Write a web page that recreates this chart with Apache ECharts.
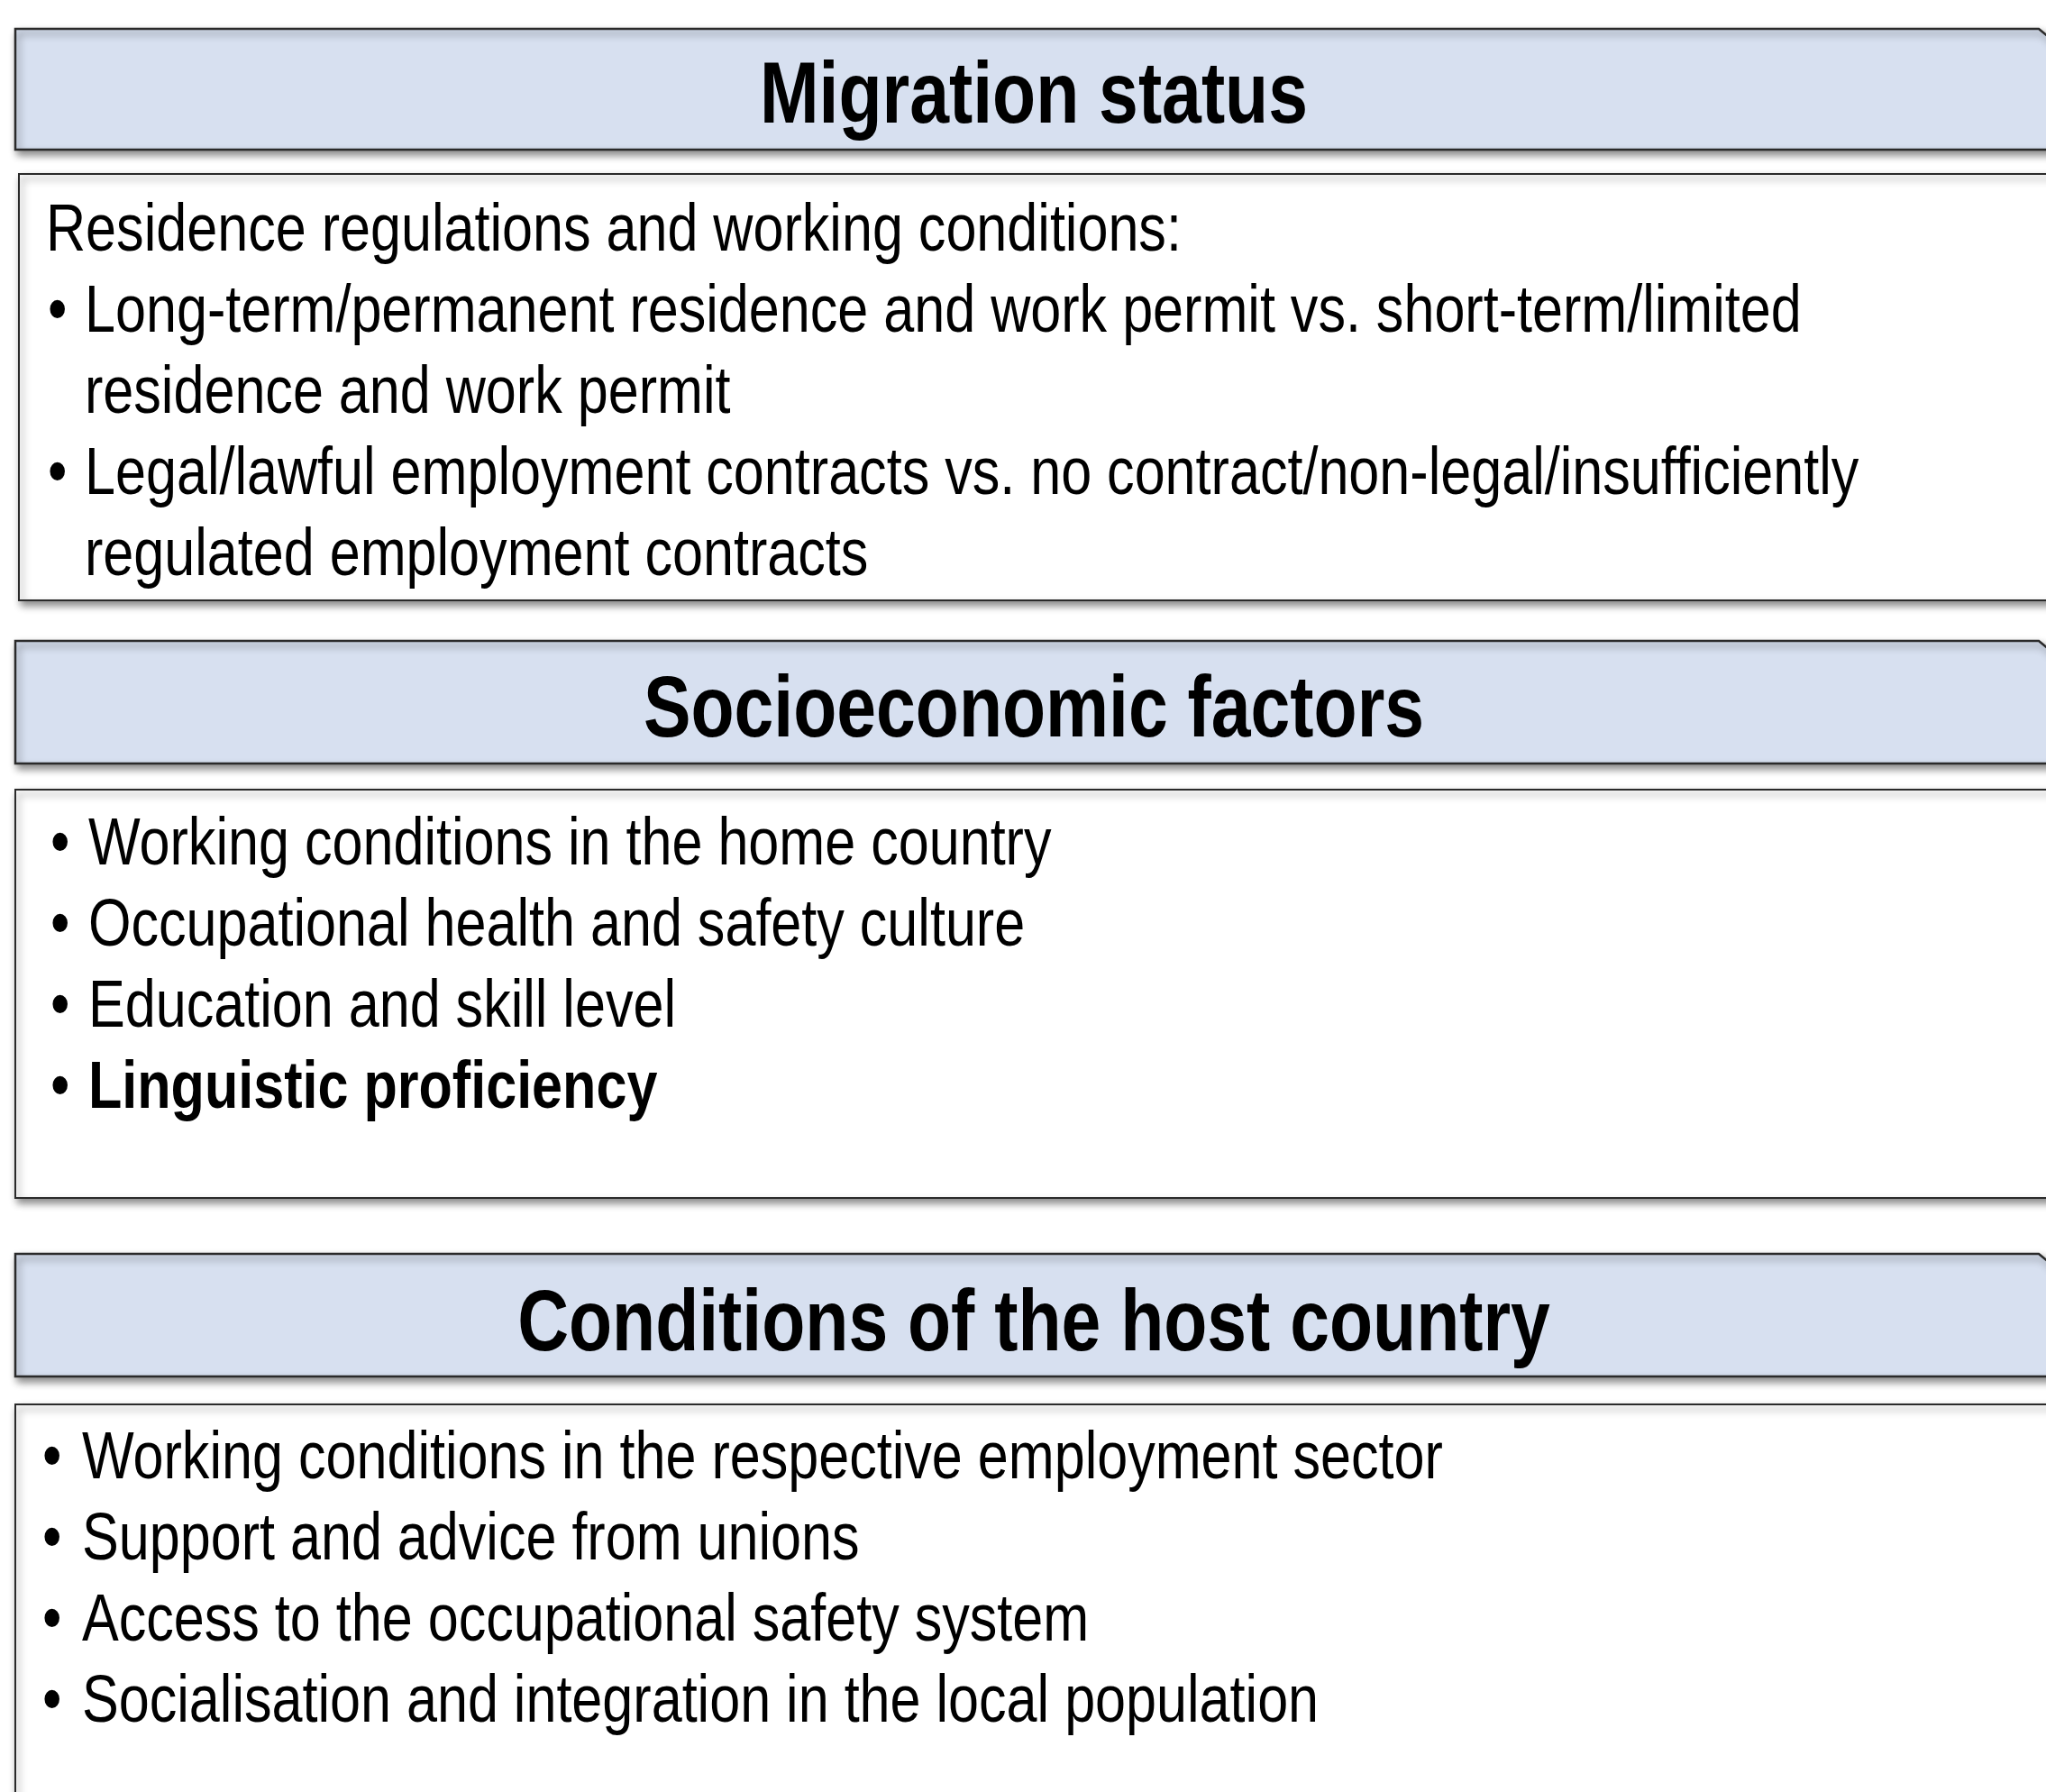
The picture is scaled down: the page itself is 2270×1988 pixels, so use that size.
<!DOCTYPE html>
<html>
<head>
<meta charset="utf-8">
<script src="https://cdn.jsdelivr.net/npm/echarts@6/dist/echarts.min.js"></script>
<style>
    html, body { margin: 0; padding: 0; background: #fff; }
    #main { width: 2270px; height: 1988px; }
</style>
</head>
<body>
<div id="main"></div>
<script>
// section titles
const sectionTitles = ['Migration status', 'Socioeconomic factors', 'Conditions of the host country'];

// box 1
const migrationIntro = 'Residence regulations and working conditions:';
const migrationBullets = [
    ['Long-term/permanent residence and work permit vs. short-term/limited', 'residence and work permit'],
    ['Legal/lawful employment contracts vs. no contract/non-legal/insufficiently', 'regulated employment contracts']
];

// box 2
const socioBullets = [
    'Working conditions in the home country',
    'Occupational health and safety culture',
    'Education and skill level',
    'Linguistic proficiency'
];
const socioBold = [false, false, false, true];

// box 3
const hostBullets = [
    'Working conditions in the respective employment sector',
    'Support and advice from unions',
    'Access to the occupational safety system',
    'Socialisation and integration in the local population'
];

// 字体检测：没有 Narrow 就用普通字体横向压缩
const hasFont = (name) => {
    const ctx = document.createElement('canvas').getContext('2d');
    ctx.font = '72px monospace';
    const w0 = ctx.measureText('Migration status').width;
    ctx.font = "72px '" + name + "', monospace";
    return ctx.measureText('Migration status').width !== w0;
};
const narrow = hasFont('Liberation Sans Narrow');
const FONT = narrow ? "'Liberation Sans Narrow', 'Arial Narrow', sans-serif" : "'Liberation Sans', Arial, sans-serif";
const SX = narrow ? 1 : 0.82;

const W = 2270;
const BODY_SIZE = 74.5;
const TITLE_SIZE = 96;
const LINE_H = 90;
const STROKE = '#2a2a2a';

const headers = [
    { top: 32, bottom: 166, left: 17, base: 143 },
    { top: 711, bottom: 847, left: 17, base: 824 },
    { top: 1391, bottom: 1527, left: 17, base: 1505 }
];
const boxes = [
    { top: 193, bottom: 666, left: 21 },
    { top: 876, bottom: 1329, left: 17 },
    { top: 1558, bottom: 2040, left: 17 }
];

const shadow = {
    shadowBlur: 8,
    shadowOffsetX: 3,
    shadowOffsetY: 5,
    shadowColor: 'rgba(0,0,0,0.45)'
};

const textEl = (str, x, baseline, size, opts) => {
    opts = opts || {};
    return {
        type: 'text',
        x: x,
        y: baseline - size * 0.35,
        scaleX: SX,
        z: 10,
        style: {
            x: 0,
            y: 0,
            text: str,
            font: (opts.bold ? 'bold ' : '') + size + 'px ' + FONT,
            fill: '#000',
            align: opts.align || 'left',
            verticalAlign: 'middle'
        }
    };
};

const elements = [];

// 标题框（右上角切角）
headers.forEach((h, i) => {
    elements.push({
        type: 'polygon',
        z: 2,
        shape: {
            points: [[h.left, h.top], [2262, h.top], [W + 30, h.top + 32], [W + 30, h.bottom], [h.left, h.bottom]]
        },
        style: Object.assign({ fill: '#d7e0f0', stroke: STROKE, lineWidth: 2.5 }, shadow)
    });
    elements.push(textEl(sectionTitles[i], 1147, h.base, TITLE_SIZE, { bold: true, align: 'center' }));
});

// 内容框
boxes.forEach((b) => {
    elements.push({
        type: 'rect',
        z: 1,
        shape: { x: b.left, y: b.top, width: W + 40 - b.left, height: b.bottom - b.top },
        style: Object.assign({ fill: '#fff', stroke: STROKE, lineWidth: 2 }, shadow)
    });
});

// 列表
const addBullets = (lines, firstBase, bulletX, textX, boldFlags) => {
    let row = 0;
    lines.forEach((item, i) => {
        const parts = Array.isArray(item) ? item : [item];
        const bold = boldFlags ? boldFlags[i] : false;
        elements.push(textEl('\u2022', bulletX, firstBase + row * LINE_H, BODY_SIZE));
        parts.forEach((p) => {
            elements.push(textEl(p, textX, firstBase + row * LINE_H, BODY_SIZE, { bold: bold }));
            row++;
        });
    });
};

elements.push(textEl(migrationIntro, 51, 284, BODY_SIZE));
addBullets(migrationBullets, 374, 53, 94);
addBullets(socioBullets, 965, 56, 98, socioBold);
addBullets(hostBullets, 1646, 47, 91);

const chart = echarts.init(document.getElementById('main'), null, { renderer: 'canvas' });
chart.setOption({
    backgroundColor: '#fff',
    animation: false,
    graphic: { elements: elements }
});
window.addEventListener('resize', chart.resize);
</script>
</body>
</html>
